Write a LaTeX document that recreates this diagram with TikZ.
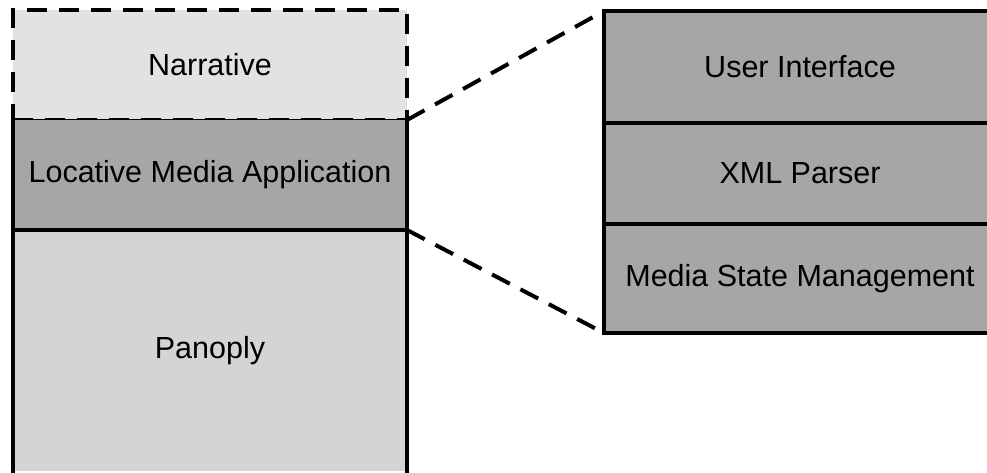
\documentclass[tikz,border=0pt]{standalone}
\usepackage{fontspec}
\setmainfont{Liberation Sans}
\usetikzlibrary{positioning}
\definecolor{narrgray}{RGB}{226,226,226}
\definecolor{appgray}{RGB}{166,166,166}
\definecolor{basegray}{RGB}{212,212,212}

\begin{document}
\begin{tikzpicture}[x=1pt,y=-1pt,
  layer/.style={rectangle, inner sep=0pt, outer sep=0pt, minimum width=394pt,
    font=\fontsize{30.5}{36}\selectfont},
  module/.style={layer, draw=black, line width=4pt, fill=appgray, minimum width=392pt},
  edge/.style={line width=4pt, line cap=rect},
  zoomline/.style={line width=4pt, dash pattern=on 20pt off 12pt}]
\useasboundingbox (0,0) rectangle (987,473);
\clip (0,0) rectangle (987,473);
% left stack
\node [layer, fill=narrgray, draw=black, line width=4pt, dash pattern=on 20pt off 12pt,
  minimum height=110pt, anchor=north west] (narr) at (13,10) {Narrative};
\node [layer, fill=appgray, draw=black, line width=1pt, minimum height=110pt,
  below=0pt of narr] (lma) {Locative Media Application};
\node [layer, fill=basegray, minimum height=241pt, below=0pt of lma] (pan) {Panoply};
\draw [edge] (lma.north west) -- (pan.south west); % left side
\draw [edge] (lma.north east) -- (pan.south east); % right side
\draw [edge] (lma.south west) -- (lma.south east);
% right stack
\node [module, minimum height=112pt, anchor=north west] (ui) at (604,11) {User Interface};
\node [module, minimum height=101pt, below=0pt of ui] (xml) {XML Parser};
\node [module, minimum height=109pt, below=0pt of xml] (msm) {Media State Management};
% zoom lines
\draw [zoomline] (lma.north east) -- (ui.north west);
\draw [zoomline] (lma.south east) -- (msm.south west);
\end{tikzpicture}
\end{document}
